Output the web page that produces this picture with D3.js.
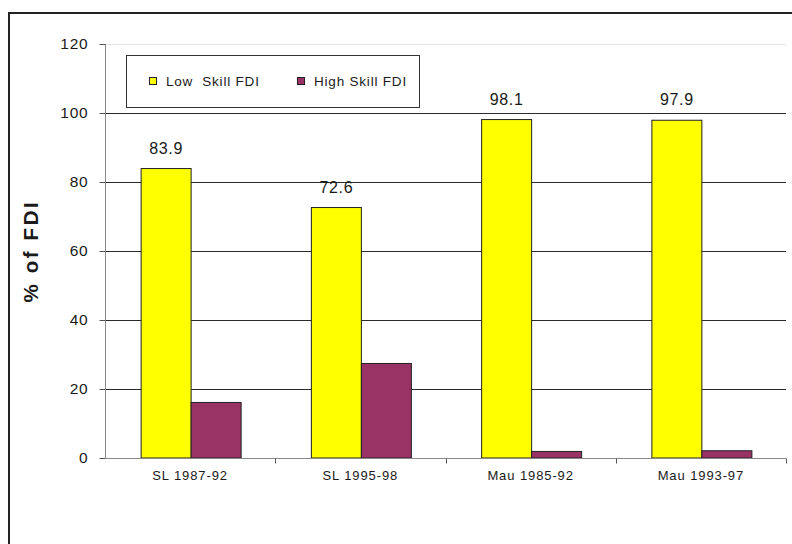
<!DOCTYPE html>
<html>
<head>
<meta charset="utf-8">
<script src="https://cdn.jsdelivr.net/npm/d3@7"></script>
<style>
  html, body { margin: 0; padding: 0; background: #fff; }
  svg { display: block; }
  text { font-family: "Liberation Sans", Arial, sans-serif; fill: #1a1a1a; }
</style>
</head>
<body>
<div id="chart"></div>
<script>
// FDI composition by skill level, Sri Lanka (SL) and Mauritius (Mau)
const categories = ["SL 1987-92", "SL 1995-98", "Mau 1985-92", "Mau 1993-97"];
const lowSkill = [83.9, 72.6, 98.1, 97.9];
const highSkill = [16.1, 27.4, 1.9, 2.1];
const seriesNames = ["Low  Skill FDI", "High Skill FDI"];
const seriesColors = ["#ffff00", "#993366"];
const yTicks = [0, 20, 40, 60, 80, 100, 120];

const W = 792, H = 544;
const svg = d3.select("#chart").append("svg").attr("width", W).attr("height", H);

// outer chart frame
svg.append("rect")
  .attr("x", 9).attr("y", 13).attr("width", 820).attr("height", 600)
  .attr("fill", "none").attr("stroke", "#222").attr("stroke-width", 2);

const plot = { left: 105, right: 786, top: 44, bottom: 458 };

const x0 = d3.scaleBand().domain(categories).range([plot.left, plot.right]).paddingInner(0).paddingOuter(0);
const x1 = d3.scaleBand().domain([0, 1]).range([0, 100]);
const y = d3.scaleLinear().domain([0, 120]).range([plot.bottom, plot.top]);

// horizontal gridlines
svg.append("g").selectAll("line").data(yTicks.filter(t => t > 0)).join("line")
  .attr("x1", plot.left).attr("x2", plot.right)
  .attr("y1", d => Math.round(y(d)) + 0.5).attr("y2", d => Math.round(y(d)) + 0.5)
  .attr("stroke", d => d === 120 ? "#e4e4e4" : "#2a2a2a").attr("stroke-width", 1);

// y axis
const yAxis = svg.append("g")
  .attr("transform", `translate(${plot.left + 0.5},0)`)
  .call(d3.axisLeft(y).tickValues(yTicks).tickSize(6).tickPadding(11).tickFormat(d3.format("d")));
yAxis.select(".domain").attr("stroke", "#888").attr("d", `M0,${plot.top}V${plot.bottom}`);
yAxis.selectAll(".tick line").attr("stroke", "#555");
yAxis.selectAll(".tick text")
  .attr("font-size", 15.5).attr("letter-spacing", 0.8)
  .style("font-family", "Liberation Sans, Arial, sans-serif").attr("fill", "#1a1a1a");

// bars
const groups = svg.append("g").selectAll("g").data(categories).join("g")
  .attr("transform", d => `translate(${x0(d) + (x0.bandwidth() - 100) / 2 + 1},0)`);

const vals = [lowSkill, highSkill];
groups.selectAll("rect").data((d, i) => [0, 1].map(s => ({ s, v: vals[s][i] }))).join("rect")
  .attr("x", d => x1(d.s))
  .attr("width", x1.bandwidth())
  .attr("y", d => y(d.v))
  .attr("height", d => plot.bottom - y(d.v))
  .attr("fill", d => seriesColors[d.s])
  .attr("stroke", "#222").attr("stroke-width", 1);

// value labels on low-skill bars
groups.append("text")
  .attr("x", x1(0) + x1.bandwidth() / 2)
  .attr("y", (d, i) => y(lowSkill[i]) - 15)
  .attr("text-anchor", "middle")
  .attr("font-size", 16).attr("letter-spacing", 0.7)
  .text((d, i) => lowSkill[i].toFixed(1));

// x axis
const xAxis = svg.append("g")
  .attr("transform", `translate(0,${plot.bottom + 0.5})`)
  .call(d3.axisBottom(x0).tickSize(0).tickPadding(12));
xAxis.select(".domain").attr("stroke", "#888").attr("d", `M${plot.left},0H${plot.right}`);
xAxis.selectAll(".tick text")
  .attr("font-size", 13).attr("letter-spacing", 0.9)
  .style("font-family", "Liberation Sans, Arial, sans-serif").attr("fill", "#1a1a1a");
// category boundary ticks
xAxis.append("g").selectAll("line")
  .data(categories.map(c => x0(c)).concat([plot.right]).slice(1))
  .join("line")
  .attr("x1", d => Math.round(d) + 0.5).attr("x2", d => Math.round(d) + 0.5)
  .attr("y1", 0).attr("y2", 5).attr("stroke", "#555");

// y title
svg.append("text")
  .attr("transform", `translate(38,251) rotate(-90)`)
  .attr("text-anchor", "middle")
  .attr("font-size", 20.5).attr("font-weight", "bold").attr("letter-spacing", 2.6)
  .text("% of FDI");

// legend
const lg = svg.append("g");
lg.append("rect")
  .attr("x", 126.5).attr("y", 55.5).attr("width", 293).attr("height", 52)
  .attr("fill", "#fff").attr("stroke", "#333").attr("stroke-width", 1);
const legendX = [149, 297];
seriesNames.forEach((name, i) => {
  lg.append("rect")
    .attr("x", legendX[i] + 0.5).attr("y", 77.5).attr("width", 7).attr("height", 7)
    .attr("fill", seriesColors[i]).attr("stroke", "#222").attr("stroke-width", 1);
  lg.append("text")
    .attr("x", legendX[i] + 17).attr("y", 86)
    .attr("font-size", 13.5).attr("letter-spacing", 0.8)
    .attr("xml:space", "preserve").style("white-space", "pre")
    .text(name);
});
</script>
</body>
</html>
